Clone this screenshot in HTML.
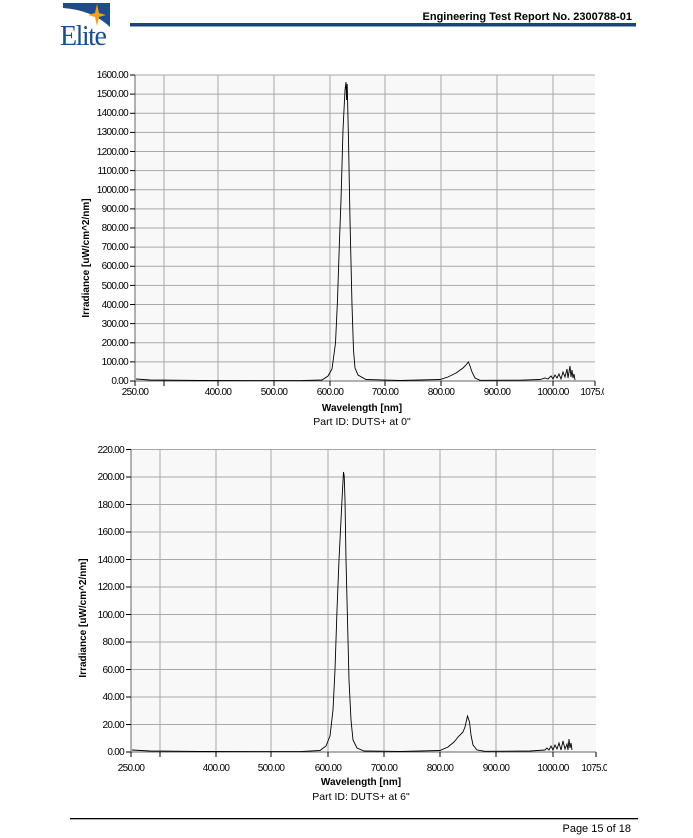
<!DOCTYPE html>
<html><head><meta charset="utf-8"><style>
html,body{margin:0;padding:0;background:#fff;}
svg{display:block;font-family:"Liberation Sans",sans-serif;}
.t{font-size:10px;letter-spacing:-0.7px;fill:#000;}
.g{stroke:#a8a8a8;stroke-width:1;}
</style></head><body>
<svg width="693" height="838" viewBox="0 0 693 838" xmlns="http://www.w3.org/2000/svg">
<!-- header -->
<path d="M63 3 L110 3 L110 27 Q92 10 63 8 Z" fill="#1f4e86"/>
<path d="M97 4 L99 13 L106 15 L99 17 L97 26 L95 17 L88 15 L95 13 Z" fill="#f0a020"/>
<text x="60" y="45" font-family="Liberation Serif,serif" font-size="28" fill="#1f4e86" letter-spacing="-1.5">Elite</text>
<rect x="130" y="23" width="506" height="3.5" fill="#1a4676"/>
<text x="632" y="20" text-anchor="end" font-size="11" font-weight="bold">Engineering Test Report No. 2300788-01</text>
<rect x="70" y="818" width="568" height="1.3" fill="#000"/>
<text x="631" y="832" text-anchor="end" font-size="11">Page 15 of 18</text>

<!-- chart 1 -->
<rect x="135" y="75" width="460" height="306" fill="#f8f8f8"/>
<g class="g">
<line x1="164" y1="75" x2="164" y2="381"/><line x1="218" y1="75" x2="218" y2="381"/><line x1="274" y1="75" x2="274" y2="381"/><line x1="330" y1="75" x2="330" y2="381"/><line x1="385" y1="75" x2="385" y2="381"/><line x1="441" y1="75" x2="441" y2="381"/><line x1="497" y1="75" x2="497" y2="381"/><line x1="553" y1="75" x2="553" y2="381"/>
<line x1="135" y1="75" x2="595" y2="75"/><line x1="135" y1="94.1" x2="595" y2="94.1"/><line x1="135" y1="113.3" x2="595" y2="113.3"/><line x1="135" y1="132.4" x2="595" y2="132.4"/><line x1="135" y1="151.5" x2="595" y2="151.5"/><line x1="135" y1="170.6" x2="595" y2="170.6"/><line x1="135" y1="189.8" x2="595" y2="189.8"/><line x1="135" y1="208.9" x2="595" y2="208.9"/><line x1="135" y1="228" x2="595" y2="228"/><line x1="135" y1="247.1" x2="595" y2="247.1"/><line x1="135" y1="266.3" x2="595" y2="266.3"/><line x1="135" y1="285.4" x2="595" y2="285.4"/><line x1="135" y1="304.5" x2="595" y2="304.5"/><line x1="135" y1="323.6" x2="595" y2="323.6"/><line x1="135" y1="342.8" x2="595" y2="342.8"/><line x1="135" y1="361.9" x2="595" y2="361.9"/>
</g>
<line x1="135" y1="75" x2="135" y2="381" stroke="#666"/>
<line x1="135" y1="381" x2="595" y2="381" stroke="#666"/>
<g stroke="#000">
<line x1="130" y1="75" x2="135" y2="75"/><line x1="130" y1="94.1" x2="135" y2="94.1"/><line x1="130" y1="113.3" x2="135" y2="113.3"/><line x1="130" y1="132.4" x2="135" y2="132.4"/><line x1="130" y1="151.5" x2="135" y2="151.5"/><line x1="130" y1="170.6" x2="135" y2="170.6"/><line x1="130" y1="189.8" x2="135" y2="189.8"/><line x1="130" y1="208.9" x2="135" y2="208.9"/><line x1="130" y1="228" x2="135" y2="228"/><line x1="130" y1="247.1" x2="135" y2="247.1"/><line x1="130" y1="266.3" x2="135" y2="266.3"/><line x1="130" y1="285.4" x2="135" y2="285.4"/><line x1="130" y1="304.5" x2="135" y2="304.5"/><line x1="130" y1="323.6" x2="135" y2="323.6"/><line x1="130" y1="342.8" x2="135" y2="342.8"/><line x1="130" y1="361.9" x2="135" y2="361.9"/><line x1="130" y1="381" x2="135" y2="381"/>
<line x1="135" y1="381" x2="135" y2="386"/><line x1="164" y1="381" x2="164" y2="386"/><line x1="218" y1="381" x2="218" y2="386"/><line x1="274" y1="381" x2="274" y2="386"/><line x1="330" y1="381" x2="330" y2="386"/><line x1="385" y1="381" x2="385" y2="386"/><line x1="441" y1="381" x2="441" y2="386"/><line x1="497" y1="381" x2="497" y2="386"/><line x1="553" y1="381" x2="553" y2="386"/><line x1="595" y1="381" x2="595" y2="386"/>
</g>
<g class="t" text-anchor="end">
<text x="128" y="78">1600.00</text><text x="128" y="97">1500.00</text><text x="128" y="116">1400.00</text><text x="128" y="135">1300.00</text><text x="128" y="155">1200.00</text><text x="128" y="174">1100.00</text><text x="128" y="193">1000.00</text><text x="128" y="212">900.00</text><text x="128" y="231">800.00</text><text x="128" y="250">700.00</text><text x="128" y="269">600.00</text><text x="128" y="289">500.00</text><text x="128" y="308">400.00</text><text x="128" y="327">300.00</text><text x="128" y="346">200.00</text><text x="128" y="365">100.00</text><text x="128" y="384">0.00</text>
</g>
<g class="t" text-anchor="middle">
<text x="135" y="395">250.00</text><text x="218" y="395">400.00</text><text x="274" y="395">500.00</text><text x="330" y="395">600.00</text><text x="385" y="395">700.00</text><text x="441" y="395">800.00</text><text x="497" y="395">900.00</text><text x="553" y="395">1000.00</text><text x="596" y="395">1075.00</text>
</g>
<rect x="604" y="385" width="89" height="14" fill="#fff"/>
<text x="362" y="411" text-anchor="middle" font-size="10" font-weight="bold">Wavelength [nm]</text>
<text x="362" y="425" text-anchor="middle" font-size="10.5">Part ID: DUTS+ at 0"</text>
<text transform="translate(89,258) rotate(-90)" text-anchor="middle" font-size="10" font-weight="bold">Irradiance [uW/cm^2/nm]</text>
<path fill="none" stroke="#000" stroke-width="0.9" d="M136 379 L150 380 L200 380.5 L300 380.6 L322 380 L328 376 L332 369 L335.5 343 L337.5 300 L339.5 240 L341 200 L343 130 L345 90 L346 82 L346.6 100 L347.2 84 L348.5 140 L350 220 L352 305 L353.5 350 L355 368 L358 375 L366 379.5 L400 380.5 L440 379.5 L448 377 L456 373 L463 368 L466 365 L468.4 362 L470 366 L472 372 L475 378 L480 380.3 L520 380.2 L540 379.5 L545 378 L548 379 L551 376 L553 379 L555 375 L557 378 L559 374 L561 379 L563 372 L565 377 L567 369 L568 378 L570 366 L571 377 L572 370 L573 378 L574 374 L575 380"/>

<!-- chart 2 -->
<rect x="131" y="449.5" width="465" height="302.5" fill="#f8f8f8"/>
<g class="g">
<line x1="160" y1="449.5" x2="160" y2="752"/><line x1="216" y1="449.5" x2="216" y2="752"/><line x1="271" y1="449.5" x2="271" y2="752"/><line x1="328" y1="449.5" x2="328" y2="752"/><line x1="384" y1="449.5" x2="384" y2="752"/><line x1="440" y1="449.5" x2="440" y2="752"/><line x1="496" y1="449.5" x2="496" y2="752"/><line x1="553" y1="449.5" x2="553" y2="752"/>
<line x1="131" y1="449.5" x2="596" y2="449.5"/><line x1="131" y1="477" x2="596" y2="477"/><line x1="131" y1="504.5" x2="596" y2="504.5"/><line x1="131" y1="532" x2="596" y2="532"/><line x1="131" y1="559.5" x2="596" y2="559.5"/><line x1="131" y1="587" x2="596" y2="587"/><line x1="131" y1="614.5" x2="596" y2="614.5"/><line x1="131" y1="642" x2="596" y2="642"/><line x1="131" y1="669.5" x2="596" y2="669.5"/><line x1="131" y1="697" x2="596" y2="697"/><line x1="131" y1="724.5" x2="596" y2="724.5"/>
</g>
<line x1="131" y1="449.5" x2="131" y2="752" stroke="#666"/>
<line x1="131" y1="752" x2="596" y2="752" stroke="#666"/>
<g stroke="#000">
<line x1="126" y1="449.5" x2="131" y2="449.5"/><line x1="126" y1="477" x2="131" y2="477"/><line x1="126" y1="504.5" x2="131" y2="504.5"/><line x1="126" y1="532" x2="131" y2="532"/><line x1="126" y1="559.5" x2="131" y2="559.5"/><line x1="126" y1="587" x2="131" y2="587"/><line x1="126" y1="614.5" x2="131" y2="614.5"/><line x1="126" y1="642" x2="131" y2="642"/><line x1="126" y1="669.5" x2="131" y2="669.5"/><line x1="126" y1="697" x2="131" y2="697"/><line x1="126" y1="724.5" x2="131" y2="724.5"/><line x1="126" y1="752" x2="131" y2="752"/>
<line x1="131" y1="752" x2="131" y2="757"/><line x1="160" y1="752" x2="160" y2="757"/><line x1="216" y1="752" x2="216" y2="757"/><line x1="271" y1="752" x2="271" y2="757"/><line x1="328" y1="752" x2="328" y2="757"/><line x1="384" y1="752" x2="384" y2="757"/><line x1="440" y1="752" x2="440" y2="757"/><line x1="496" y1="752" x2="496" y2="757"/><line x1="553" y1="752" x2="553" y2="757"/><line x1="596" y1="752" x2="596" y2="757"/>
</g>
<g class="t" text-anchor="end">
<text x="124" y="453">220.00</text><text x="124" y="480">200.00</text><text x="124" y="508">180.00</text><text x="124" y="535">160.00</text><text x="124" y="563">140.00</text><text x="124" y="590">120.00</text><text x="124" y="618">100.00</text><text x="124" y="645">80.00</text><text x="124" y="673">60.00</text><text x="124" y="700">40.00</text><text x="124" y="728">20.00</text><text x="124" y="755">0.00</text>
</g>
<g class="t" text-anchor="middle">
<text x="131" y="771">250.00</text><text x="216" y="771">400.00</text><text x="271" y="771">500.00</text><text x="328" y="771">600.00</text><text x="384" y="771">700.00</text><text x="440" y="771">800.00</text><text x="496" y="771">900.00</text><text x="553" y="771">1000.00</text><text x="597" y="771">1075.00</text>
</g>
<rect x="607" y="760" width="86" height="14" fill="#fff"/>
<text x="361" y="785" text-anchor="middle" font-size="10" font-weight="bold">Wavelength [nm]</text>
<text x="361" y="800" text-anchor="middle" font-size="10.5">Part ID: DUTS+ at 6"</text>
<text transform="translate(86,618) rotate(-90)" text-anchor="middle" font-size="10" font-weight="bold">Irradiance [uW/cm^2/nm]</text>
<path fill="none" stroke="#000" stroke-width="0.9" d="M132 750 L150 751 L200 751.5 L300 751.6 L320 750.5 L326 746 L330 736 L333 710 L335 670 L337 610 L339 560 L341 520 L342.5 490 L343.5 472 L344.2 476 L345 500 L346 560 L347.5 620 L349 680 L351 720 L353 740 L357 748 L364 751 L400 751.5 L440 750.5 L448 747 L454 742 L459 736 L463 732 L465 727 L467.5 716 L469.5 722 L471 735 L473 745 L477 750 L485 751.3 L530 751 L545 750 L547 748 L549 750 L551 746 L553 750 L555 745 L557 749 L559 743 L561 750 L563 741 L565 749 L567 744 L568 750 L569 739 L570 748 L571 743 L572 750"/>
</svg>
</body></html>
